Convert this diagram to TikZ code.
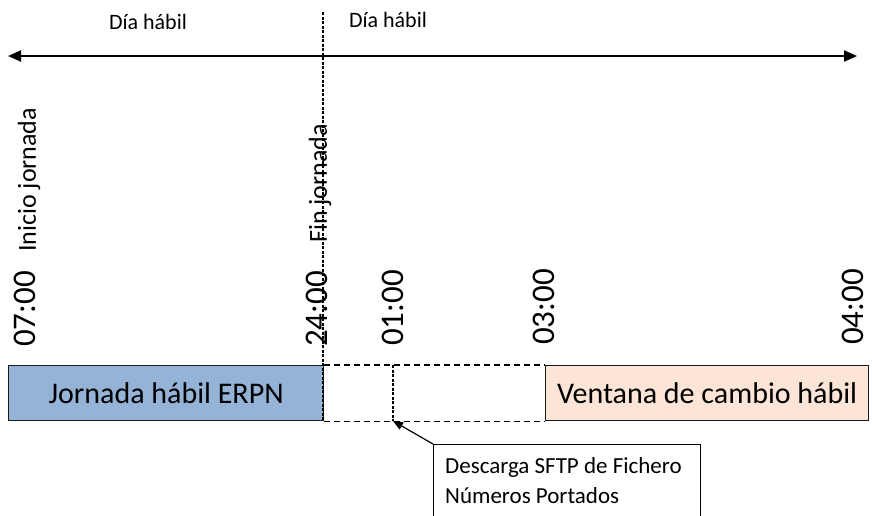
\documentclass[tikz,border=0pt]{standalone}
\usepackage{fontspec}
\setmainfont{Carlito}
\usetikzlibrary{arrows.meta}
\definecolor{boxblue}{HTML}{95B3D7}
\definecolor{boxpeach}{HTML}{FCE4D6}
\tikzset{
  daylabel/.style={font=\fontsize{22}{26}\selectfont, inner sep=0pt},
  timelabel/.style={font=\fontsize{33}{38}\selectfont, rotate=90, anchor=west, inner sep=0pt},
  eventlabel/.style={font=\fontsize{26}{30}\selectfont, rotate=90, anchor=west, inner sep=0pt},
  phasebox/.style={draw=black!90, line width=1.3pt, minimum height=55pt, inner sep=0pt, font=\fontsize{30}{34}\selectfont},
  gapline/.style={dashed, dash pattern=on 6pt off 4pt, line width=1.1pt},
  fineline/.style={dash pattern=on 3pt off 1.5pt, line width=1.1pt},
  calloutframe/.style={draw, line width=1.1pt, anchor=north west, minimum width=267pt, minimum height=110pt, inner sep=0pt},
  callouttext/.style={align=left, anchor=north west, font=\fontsize{23}{30}\selectfont, inner sep=0pt},
}
\begin{document}
\begin{tikzpicture}[x=1pt,y=-1pt]
\useasboundingbox (0,0) rectangle (872,515);
% timeline
\coordinate (tl) at (8,56);
\coordinate (tr) at (857,56);
\draw[line width=2pt, {Triangle[length=13pt,width=11pt]}-{Triangle[length=13pt,width=11pt]}] (tl) -- (tr);
\node[daylabel] (d1) at (148,22) {Día hábil};
\node[daylabel] (d2) at (388,20) {Día hábil};
% boxes
\node[phasebox, fill=boxblue, minimum width=315pt, anchor=north west] (erpn) at (8,365) {Jornada hábil ERPN};
\node[phasebox, fill=boxpeach, minimum width=323pt, anchor=north west] (vent) at (545,365) {Ventana de cambio hábil};
% midnight dashed line
\coordinate (mtop) at (323,12);
\coordinate (mbot) at (323,421);
\draw[fineline] (mtop) -- (mbot);
% gap dashed box
\draw[gapline] (erpn.north east) -- (vent.north west);
\draw[gapline] (erpn.south east) -- (vent.south west);
\coordinate (one) at (393,365);
\coordinate (onebot) at (393,421);
\draw[fineline] (one) -- (onebot);
% labels
\node[eventlabel] (ini) at (29,252) {Inicio jornada};
\node[eventlabel] (fin) at (320,243) {Fin jornada};
\node[timelabel] (t07) at (25,347) {07:00};
\node[timelabel] (t24) at (317,347) {24:00};
\node[timelabel] (t01) at (393,346) {01:00};
\node[timelabel] (t03) at (544,345) {03:00};
\node[timelabel] (t04) at (853,345) {04:00};
% callout
\node[calloutframe] (call) at (433,444) {};
\node[callouttext] (calltext) at (445,457) {Descarga SFTP de Fichero\\Números Portados};
\draw[line width=1.2pt, -{Triangle[length=10pt,width=8pt]}] (call.north west) -- (onebot);
\end{tikzpicture}
\end{document}
